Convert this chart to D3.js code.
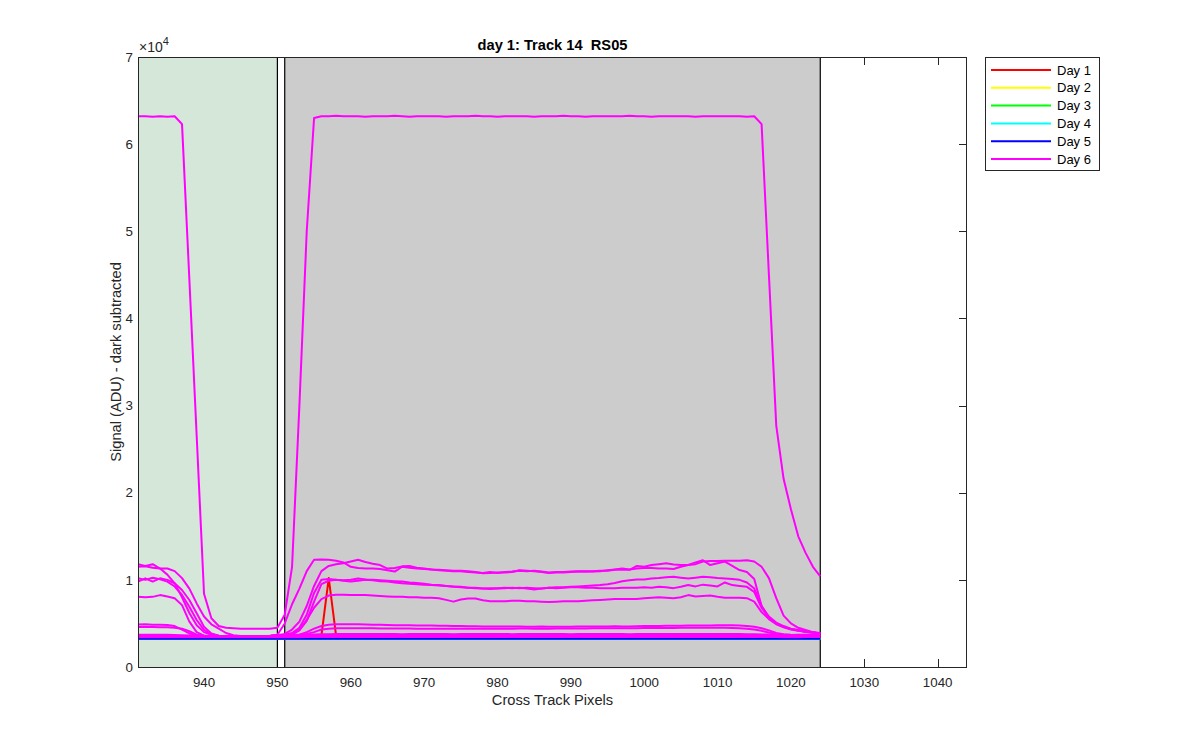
<!DOCTYPE html>
<html><head><meta charset="utf-8">
<script src="https://cdn.jsdelivr.net/npm/d3@7"></script>
<style>
body{margin:0;background:#fff;}
svg{display:block;font-family:Arial,"Liberation Sans",Helvetica,sans-serif;}
text{white-space:pre;}
</style>
</head><body>
<svg id="chart" width="1200" height="750"></svg>
<script>
// ---------------- DATA ----------------
const pixels = d3.range(931, 1025); // cross-track pixel numbers 931..1024
const xTicks = [940, 950, 960, 970, 980, 990, 1000, 1010, 1020, 1030, 1040];
const yTicks = [0, 10000, 20000, 30000, 40000, 50000, 60000, 70000];
const yTickLabels = ["0","1","2","3","4","5","6","7"];
const dayNames = ["Day 1","Day 2","Day 3","Day 4","Day 5","Day 6"];
const dayColors = ["#ff0000","#ffff00","#00ff00","#00ffff","#0000ff","#ff00ff"];
const titleText = "day 1: Track 14  RS05";
const regionGreen = [931, 950];
const regionGray = [951, 1024];

// Day 1 (red)
const day1 = [3420,3420,3430,3420,3420,3420,3410,3400,3400,3400,
  3400,3400,3400,3400,3400,3400,3400,3400,3400,3410,
  3410,3420,3420,3430,3430,3600,10200,3600,3440,3440,
  3440,3440,3440,3440,3450,3440,3440,3440,3440,3440,
  3440,3440,3450,3440,3440,3440,3440,3440,3440,3440,
  3440,3440,3440,3440,3440,3450,3440,3440,3440,3440,
  3440,3440,3440,3450,3440,3440,3440,3440,3440,3440,
  3440,3440,3440,3440,3440,3440,3450,3440,3440,3440,
  3440,3440,3440,3440,3440,3440,3430,3430,3420,3420,
  3420,3430,3440,3450];

// baseline (Day 5 blue; Days 2-4 lie underneath it)
const baseline = [3250,3250,3240,3250,3250,3260,3250,3250,3240,3250,
  3250,3250,3250,3240,3250,3250,3250,3260,3250,3250,
  3250,3250,3250,3260,3250,3250,3240,3250,3250,3250,
  3250,3260,3250,3250,3250,3250,3240,3250,3250,3250,
  3250,3250,3260,3250,3250,3250,3250,3250,3240,3250,
  3250,3250,3250,3250,3260,3250,3250,3250,3250,3250,
  3240,3250,3250,3250,3250,3250,3260,3250,3250,3250,
  3250,3250,3240,3250,3250,3250,3250,3250,3260,3250,
  3250,3250,3250,3250,3240,3250,3250,3250,3250,3250,
  3260,3250,3250,3250];

// Day 6 (magenta) curves
const day6_a = [63200,63200,63150,63200,63150,63200,62300,44500,26500,8400,
  5600,4700,4500,4450,4400,4400,4400,4400,4400,4500,
  6000,11500,30000,50000,63000,63200,63200,63250,63200,63200,
  63200,63150,63200,63200,63200,63250,63200,63150,63200,63200,
  63200,63200,63150,63200,63200,63200,63250,63200,63200,63150,
  63200,63200,63200,63200,63150,63200,63200,63200,63250,63200,
  63200,63150,63200,63200,63200,63200,63200,63250,63200,63200,
  63150,63200,63200,63200,63200,63200,63150,63200,63200,63200,
  63200,63200,63200,63150,63200,62300,45000,27700,21600,18100,
  15000,13100,11500,10400];
const day6_b = [11800,11600,11800,11300,11300,11000,10200,9000,7300,5800,
  4900,4400,3900,3650,3550,3500,3500,3500,3550,3700,
  5000,7200,9000,11000,12300,12350,12300,12200,12000,11500,
  11350,11300,11300,11250,11100,10950,11500,11400,11300,11250,
  11200,11100,11050,11000,11000,10900,10850,10800,10900,10800,
  10900,10950,11050,11000,11050,10950,10850,10900,10900,10950,
  11000,10950,11000,11050,11050,11150,11200,11150,11600,11500,
  11700,11800,11900,11750,11700,11700,11800,12100,12150,12150,
  12200,12200,12200,12250,12100,11500,10200,7900,5900,5000,
  4500,4250,4000,3850];
const day6_c = [11500,11550,11400,11300,10600,9600,8000,6200,4800,4000,
  3700,3600,3550,3500,3500,3500,3500,3500,3550,3650,
  3800,4300,5200,7000,9300,11000,11600,11800,11900,12100,
  12300,12050,11850,11700,11300,11350,11550,11600,11400,11300,
  11200,11150,11100,11050,11050,11000,10900,10750,10800,10850,
  10850,10900,11100,11050,11000,10900,10800,10850,10850,10900,
  10950,11000,10950,11000,11100,11200,11300,11200,11300,11350,
  11350,11300,11300,11250,11500,11700,12000,12250,11700,11900,
  12090,11600,11130,10900,10100,7000,5600,5000,4600,4350,
  4200,4050,3950,3850];
const day6_d = [10180,10000,10250,10060,9800,9240,8260,6920,5390,4250,
  3750,3600,3550,3500,3500,3500,3500,3500,3550,3650,
  3700,3900,4500,6000,8500,10000,10100,10000,9950,10000,
  10150,10050,10000,9950,9900,9850,9800,9700,9650,9550,
  9450,9400,9300,9250,9200,9100,9100,9000,9050,9050,
  9100,9050,9100,9000,8900,9000,9100,9150,9150,9200,
  9250,9300,9350,9400,9500,9650,9850,9950,10050,10050,
  10150,10200,10300,10350,10250,10150,10250,10350,10300,10200,
  10150,10100,10000,9700,9000,7000,5800,5100,4700,4400,
  4250,4100,4000,3900];
const day6_e = [9800,10180,9800,10180,10000,9610,8840,7690,6160,4630,
  3860,3600,3550,3500,3500,3500,3500,3500,3550,3650,
  3650,3700,4200,5300,7500,9500,9900,10000,9900,9800,
  9900,10000,9950,9850,9800,9700,9600,9550,9500,9450,
  9400,9350,9300,9200,9150,9100,9050,9000,8950,9000,
  9050,9100,9050,9100,9050,9000,9100,9050,9100,9150,
  9150,9100,9100,9050,9050,9050,9100,9100,9100,9150,
  9100,9200,9150,9050,9200,9400,9250,9450,9350,9250,
  9700,9400,9300,9200,8600,6800,5600,5000,4600,4350,
  4200,4050,3950,3850];
const day6_f = [8070,8000,8050,8250,8100,7880,7100,5200,4000,3600,
  3550,3500,3500,3500,3500,3500,3500,3500,3550,3600,
  3600,3800,4300,5400,6800,7800,8200,8300,8300,8250,
  8250,8250,8200,8150,8100,8050,8050,8000,8000,7950,
  7950,7900,7700,7500,7750,7850,7850,7650,7550,7550,
  7550,7600,7600,7550,7550,7500,7450,7500,7550,7550,
  7550,7600,7650,7700,7750,7800,7800,7800,7800,7900,
  7950,8000,7950,7900,8000,8250,8100,8150,8200,8050,
  7950,7950,7950,7900,7500,6300,5500,4900,4550,4300,
  4150,4050,3950,3850];
const day6_g = [4880,4900,4850,4850,4820,4700,4300,3850,3650,3550,
  3500,3500,3500,3500,3500,3500,3500,3500,3500,3550,
  3600,3650,3700,4000,4400,4700,4850,4900,4900,4900,
  4900,4880,4850,4850,4830,4800,4800,4780,4760,4750,
  4750,4730,4720,4700,4700,4680,4680,4660,4660,4650,
  4650,4650,4640,4630,4630,4640,4620,4620,4630,4630,
  4640,4640,4650,4650,4660,4680,4650,4660,4680,4700,
  4700,4700,4720,4720,4740,4750,4760,4760,4770,4780,
  4780,4780,4760,4700,4620,4450,4200,3900,3750,3700,
  3680,3660,3650,3650];
const day6_h = [4580,4600,4580,4550,4550,4500,4400,4100,3700,3550,
  3500,3500,3500,3500,3500,3500,3500,3500,3500,3550,
  3550,3600,3650,3800,4000,4300,4400,4450,4450,4450,
  4450,4450,4440,4430,4430,4420,4420,4410,4400,4400,
  4400,4400,4390,4390,4380,4380,4380,4390,4390,4400,
  4400,4400,4410,4410,4400,4400,4400,4410,4420,4420,
  4430,4430,4440,4440,4450,4450,4450,4460,4460,4470,
  4470,4480,4480,4480,4490,4490,4500,4500,4500,4500,
  4500,4480,4450,4400,4300,4150,3950,3800,3700,3650,
  3630,3620,3610,3600];
const day6_i = [3700,3700,3710,3700,3690,3680,3650,3620,3600,3580,
  3570,3560,3560,3560,3560,3560,3560,3570,3580,3620,
  3650,3680,3700,3720,3740,3760,3770,3780,3780,3780,
  3780,3780,3790,3780,3780,3780,3770,3780,3780,3790,
  3780,3780,3780,3770,3780,3780,3780,3790,3780,3780,
  3780,3770,3780,3780,3790,3780,3780,3780,3780,3770,
  3780,3780,3790,3780,3780,3780,3780,3770,3780,3780,
  3790,3780,3780,3780,3780,3790,3780,3780,3780,3780,
  3780,3780,3780,3770,3760,3740,3720,3700,3690,3680,
  3690,3700,3720,3740];
const day6_j = [3580,3580,3590,3580,3580,3570,3560,3550,3540,3530,
  3520,3520,3520,3520,3520,3520,3520,3520,3530,3540,
  3550,3560,3570,3580,3590,3600,3600,3600,3610,3600,
  3600,3600,3600,3610,3600,3600,3600,3600,3600,3610,
  3600,3600,3600,3600,3610,3600,3600,3600,3600,3600,
  3610,3600,3600,3600,3600,3600,3610,3600,3600,3600,
  3600,3600,3610,3600,3600,3600,3600,3600,3610,3600,
  3600,3600,3600,3610,3600,3600,3600,3600,3600,3610,
  3600,3600,3600,3600,3600,3590,3580,3570,3560,3560,
  3570,3580,3600,3620];
const day6_k = [3420,3420,3430,3420,3420,3420,3410,3400,3400,3400,
  3400,3400,3400,3400,3400,3400,3400,3400,3400,3410,
  3410,3420,3420,3430,3430,3440,3440,3440,3440,3440,
  3440,3440,3440,3440,3450,3440,3440,3440,3440,3440,
  3440,3440,3450,3440,3440,3440,3440,3440,3440,3440,
  3440,3440,3440,3440,3440,3450,3440,3440,3440,3440,
  3440,3440,3440,3450,3440,3440,3440,3440,3440,3440,
  3440,3440,3440,3440,3440,3440,3450,3440,3440,3440,
  3440,3440,3440,3440,3440,3440,3430,3430,3420,3420,
  3420,3430,3440,3450];

// series list: [day index, values]
const series = [
  [0, day1], [1, baseline], [2, baseline], [3, baseline], [4, baseline],
  [5, day6_k], [5, day6_j], [5, day6_i], [5, day6_h], [5, day6_g],
  [5, day6_f], [5, day6_e], [5, day6_d], [5, day6_c], [5, day6_b], [5, day6_a]
];

// ---------------- DRAW ----------------
const svg = d3.select("#chart");
const L = 138, R = 967, T = 57, B = 667;
const x = d3.scaleLinear().domain([931, 1044]).range([L, R]);
const y = d3.scaleLinear().domain([0, 70000]).range([B, T]);
const axisColor = "#262626";
const tickLen = 8;

// tick marks (drawn under patches, as in the source)
const tickG = svg.append("g").attr("stroke", axisColor).attr("stroke-width", 1);
xTicks.forEach(t => {
  const px = Math.round(x(t)) + 0.5;
  tickG.append("line").attr("x1", px).attr("x2", px).attr("y1", B).attr("y2", B - tickLen);
  tickG.append("line").attr("x1", px).attr("x2", px).attr("y1", T).attr("y2", T + tickLen);
});
yTicks.forEach(t => {
  const py = Math.round(y(t)) + 0.5;
  tickG.append("line").attr("x1", L).attr("x2", L + tickLen).attr("y1", py).attr("y2", py);
  tickG.append("line").attr("x1", R).attr("x2", R - tickLen).attr("y1", py).attr("y2", py);
});

// shaded regions
svg.append("rect")
  .attr("x", x(regionGreen[0])).attr("y", T)
  .attr("width", x(regionGreen[1]) - x(regionGreen[0])).attr("height", B - T)
  .attr("fill", "#d5e7d9");
svg.append("rect")
  .attr("x", x(regionGray[0])).attr("y", T)
  .attr("width", x(regionGray[1]) - x(regionGray[0])).attr("height", B - T)
  .attr("fill", "#cccccc");
[regionGreen[1], regionGray[0], regionGray[1]].forEach(v => {
  svg.append("line").attr("x1", x(v)).attr("x2", x(v)).attr("y1", T).attr("y2", B)
    .attr("stroke", "#000").attr("stroke-width", 1.2);
});

// clip
svg.append("clipPath").attr("id", "clip").append("rect")
  .attr("x", L).attr("y", T).attr("width", R - L).attr("height", B - T);

const line = d3.line().x((d, i) => x(pixels[i])).y(d => y(d));
const lg = svg.append("g").attr("clip-path", "url(#clip)");
series.forEach(([di, vals]) => {
  lg.append("path").datum(vals).attr("d", line)
    .attr("fill", "none").attr("stroke", dayColors[di])
    .attr("stroke-width", 2).attr("stroke-linejoin", "round");
});

// axis box
svg.append("rect").attr("x", L + 0.5).attr("y", T + 0.5)
  .attr("width", R - L - 1).attr("height", B - T)
  .attr("fill", "none").attr("stroke", axisColor).attr("stroke-width", 1);

// tick labels
const lblG = svg.append("g").attr("fill", axisColor).style("font-size", "13.33px");
xTicks.forEach(t => {
  lblG.append("text").attr("x", x(t)).attr("y", 687).attr("text-anchor", "middle").text(t);
});
yTicks.forEach((t, i) => {
  lblG.append("text").attr("x", 133).attr("y", y(t)).attr("dy", "0.35em")
    .attr("text-anchor", "end").text(yTickLabels[i]);
});

// exponent label
const ex = svg.append("text").attr("x", 139).attr("y", 52).attr("fill", axisColor)
  .style("font-size", "14px");
ex.append("tspan").text("\u00d710");
ex.append("tspan").attr("dy", -7).style("font-size", "11px").text("4");

// title & axis labels
svg.append("text").attr("x", (L + R) / 2).attr("y", 50).attr("text-anchor", "middle")
  .attr("xml:space", "preserve")
  .style("font-size", "14.67px").style("font-weight", "bold").attr("fill", "#000")
  .text(titleText);
svg.append("text").attr("x", (L + R) / 2).attr("y", 705).attr("text-anchor", "middle")
  .style("font-size", "14.67px").attr("fill", axisColor).text("Cross Track Pixels");
svg.append("text").attr("transform", `translate(121,${(T + B) / 2}) rotate(-90)`)
  .attr("text-anchor", "middle").style("font-size", "14.67px").attr("fill", axisColor)
  .text("Signal (ADU) - dark subtracted");

// legend
const leg = svg.append("g");
leg.append("rect").attr("x", 985.5).attr("y", 57.5).attr("width", 114).attr("height", 113)
  .attr("fill", "#fff").attr("stroke", axisColor).attr("stroke-width", 1);
dayNames.forEach((n, i) => {
  const yy = 70 + i * 17.8;
  leg.append("line").attr("x1", 991).attr("x2", 1051).attr("y1", yy).attr("y2", yy)
    .attr("stroke", dayColors[i]).attr("stroke-width", 2);
  leg.append("text").attr("x", 1057).attr("y", yy).attr("dy", "0.35em")
    .style("font-size", "13px").attr("fill", "#000").text(n);
});
</script>
</body></html>
